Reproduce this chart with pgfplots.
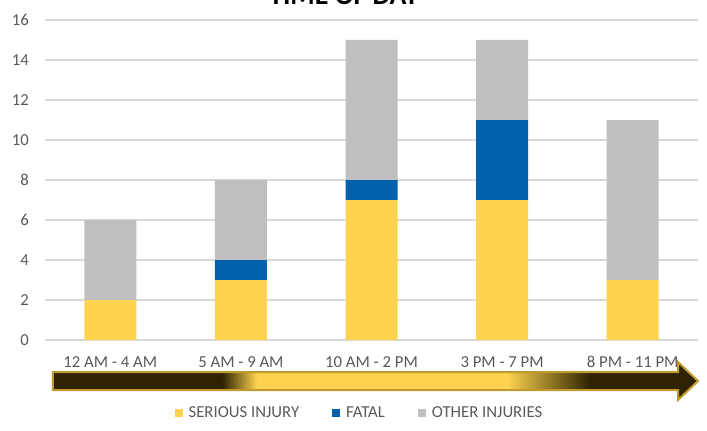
\documentclass[border=0pt]{standalone}
\usepackage{fontspec}
\setmainfont{Carlito}
\usepackage{pgfplots}
\pgfplotsset{compat=1.18}

\definecolor{serious}{HTML}{FFD34F}
\definecolor{fatal}{HTML}{0062AC}
\definecolor{other}{HTML}{BFBFBF}
\definecolor{gridc}{HTML}{D9D9D9}
\definecolor{labelc}{HTML}{595959}
\definecolor{darkarrow}{HTML}{2D2300}
\definecolor{goldmid}{HTML}{A8841E}
\definecolor{goldedge}{HTML}{C09A2E}

\begin{document}
\begin{tikzpicture}[x=1bp,y=1bp]
  % time arrow under the categories (drawn first so labels sit on top)
  \def\arrowpath{(8,-32) -- (633,-32) -- (633,-22) -- (653,-41) -- (633,-60) -- (633,-50) -- (8,-50) -- cycle}
  \begin{scope}
    \clip \arrowpath;
    \fill[darkarrow] (0,-70) rectangle (177,-10);
    \shade[left color=darkarrow, middle color=goldmid, right color=serious] (177,-70) rectangle (212,-10);
    \fill[serious] (212,-70) rectangle (462,-10);
    \shade[left color=serious, middle color=goldmid, right color=darkarrow] (462,-70) rectangle (545,-10);
    \fill[darkarrow] (545,-70) rectangle (660,-10);
  \end{scope}
  \draw[goldedge, line width=2bp, line join=miter] \arrowpath;

  \begin{axis}[
      at={(0,0)}, anchor=south west,
      width=653bp, height=320bp, scale only axis,
      ybar stacked, bar width=52bp,
      xmin=-0.5, xmax=4.5, ymin=0, ymax=16,
      xtick={0,1,2,3,4},
      xticklabels={12 AM - 4 AM, 5 AM - 9 AM, 10 AM - 2 PM, 3 PM - 7 PM, 8 PM - 11 PM},
      ytick={0,2,...,16},
      ymajorgrids,
      grid style={draw=gridc, line width=1.3bp},
      axis line style={draw=none},
      major tick length=0pt,
      tick style={draw=none},
      /pgf/number format/assume math mode=true,
      tick label style={font=\fontsize{16.8}{18}\selectfont, text=labelc, inner sep=0pt},
      xticklabel style={anchor=north, yshift=-16bp},
      yticklabel style={anchor=east, xshift=-16bp},
      legend style={
        at={(0.480,-0.228)}, anchor=center, draw=none, fill=none,
        legend columns=-1,
        font=\fontsize{16.8}{18}\selectfont, text=labelc,
        nodes={inner sep=0pt},
        /tikz/every odd column/.append style={column sep=6bp},
        /tikz/every even column/.append style={column sep=33bp},
      },
      legend image code/.code={\fill[#1] (0bp,-4.5bp) rectangle (8bp,3.5bp);},
    ]
    \addplot[fill=serious, draw=none] coordinates {(0,2) (1,3) (2,7) (3,7) (4,3)};
    \addlegendentry{SERIOUS INJURY}
    \addplot[fill=fatal, draw=none] coordinates {(0,0) (1,1) (2,1) (3,4) (4,0)};
    \addlegendentry{FATAL}
    \addplot[fill=other, draw=none] coordinates {(0,4) (1,4) (2,7) (3,4) (4,8)};
    \addlegendentry{OTHER INJURIES}
  \end{axis}

  \node[font=\bfseries\fontsize{28}{30}\selectfont, anchor=base, inner sep=0pt] at (299,336) {TIME OF DAY};

  \pgfresetboundingbox
  \path[use as bounding box] (-45,-90) rectangle (662,340);
\end{tikzpicture}
\end{document}
